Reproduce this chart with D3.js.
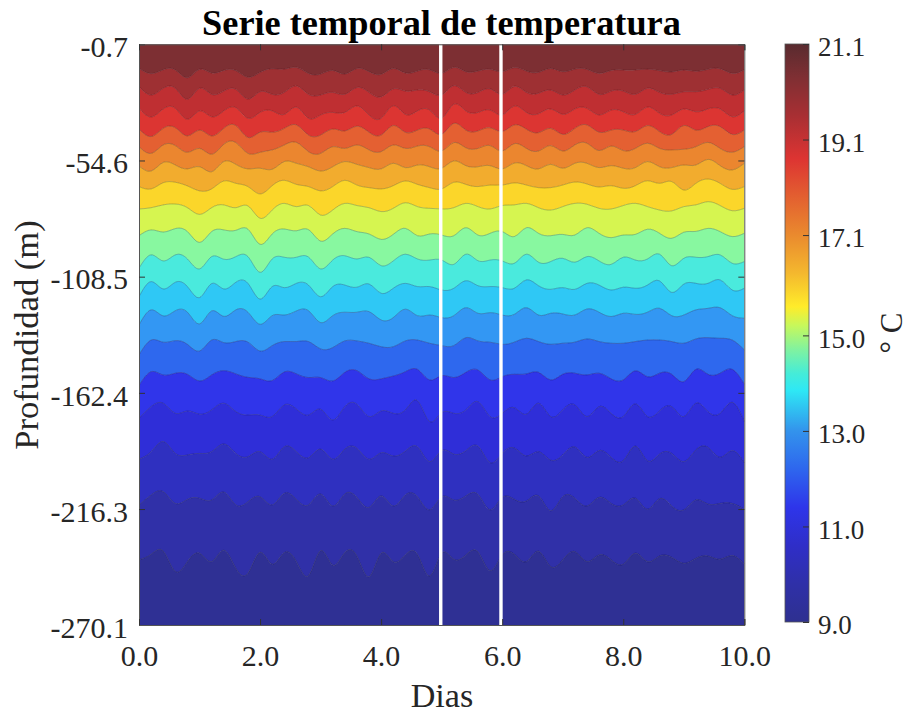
<!DOCTYPE html>
<html>
<head>
<meta charset="utf-8">
<script src="https://cdn.jsdelivr.net/npm/d3@7"></script>
<style>
html,body{margin:0;padding:0;background:#fff;}
svg{display:block;}
text{font-family:"Liberation Serif",serif;fill:#262626;}
</style>
</head>
<body>
<svg id="chart" width="908" height="714"></svg>
<script>
const chartTitle = "Serie temporal de temperatura";
const xLabel = "Dias";
const yLabel = "Profundidad (m)";
const cbLabel = "\u00B0 C";
const xTicks = [0,2,4,6,8,10];
const yTicks = [-0.7,-54.6,-108.5,-162.4,-216.3,-270.1];
const cbTicks = [21.1,19.1,17.1,15.0,13.0,11.0,9.0];
const gapDays = [4.985,5.98];
const days = d3.range(0,51).map(i=>i/5);

const iso1 = [-11.9,-14.3,-12.5,-12.6,-16.2,-12.3,-14.0,-12.8,-12.9,-16.0,-13.7,-12.0,-12.2,-11.4,-14.2,-14.5,-12.8,-14.5,-11.9,-13.4,-14.6,-11.9,-14.0,-13.1,-12.5,-14.2,-11.4,-13.4,-13.1,-12.3,-13.4,-11.5,-13.1,-13.7,-11.9,-13.4,-12.2,-12.3,-14.2,-12.8,-12.6,-12.6,-12.2,-12.9,-13.5,-12.6,-13.2,-12.3,-12.0,-14.2,-12.6];
const iso2 = [-20.4,-24.2,-21.1,-21.1,-26.2,-21.1,-23.9,-22.4,-21.6,-26.1,-22.7,-23.9,-23.0,-20.0,-23.9,-24.2,-23.0,-23.9,-20.7,-23.0,-25.1,-21.4,-22.4,-21.9,-22.7,-24.2,-19.9,-23.0,-23.0,-21.4,-23.9,-20.2,-23.0,-23.4,-21.9,-24.2,-21.9,-20.4,-23.9,-22.4,-22.4,-23.9,-21.1,-23.0,-23.9,-22.7,-22.7,-21.6,-21.1,-24.2,-21.9];
const iso3 = [-30.4,-34.4,-30.7,-30.4,-35.5,-31.6,-34.3,-31.6,-30.1,-35.0,-32.3,-31.6,-33.2,-29.9,-35.0,-33.5,-32.3,-32.3,-29.3,-33.5,-35.0,-29.2,-33.2,-31.6,-31.2,-35.0,-28.5,-31.6,-32.3,-31.2,-33.5,-29.3,-32.3,-32.9,-30.7,-33.2,-30.7,-30.4,-33.5,-31.2,-32.0,-33.2,-29.8,-32.7,-33.5,-30.7,-32.0,-30.7,-30.7,-34.3,-31.6];
const iso4 = [-40.0,-43.5,-39.7,-39.4,-43.2,-40.5,-43.2,-39.7,-38.4,-43.9,-41.5,-41.5,-39.7,-38.1,-42.8,-42.8,-40.0,-40.9,-38.7,-41.5,-42.8,-38.4,-41.5,-40.5,-40.0,-42.5,-37.4,-40.5,-40.9,-39.4,-41.2,-38.1,-40.1,-41.7,-39.7,-42.5,-39.7,-38.1,-41.5,-40.5,-40.5,-41.2,-38.4,-41.2,-42.5,-38.4,-40.5,-38.9,-38.9,-42.5,-40.5];
const iso5 = [-48.2,-51.3,-47.4,-47.7,-50.8,-49.0,-51.7,-47.1,-46.3,-51.3,-50.8,-49.7,-47.4,-46.2,-50.5,-51.3,-48.2,-49.0,-47.4,-49.7,-50.5,-47.4,-49.0,-47.9,-48.2,-50.2,-46.3,-48.7,-49.0,-47.7,-50.2,-46.8,-49.0,-50.2,-47.7,-50.2,-47.4,-46.6,-50.0,-47.9,-50.0,-49.0,-46.6,-49.0,-49.7,-49.4,-48.2,-46.2,-49.0,-50.8,-48.2];
const iso6 = [-57.1,-59.5,-55.5,-56.7,-58.5,-57.5,-59.8,-55.1,-56.4,-58.5,-58.2,-58.7,-55.1,-55.9,-57.5,-59.5,-57.5,-55.1,-56.4,-57.9,-58.5,-55.9,-57.9,-56.7,-57.5,-58.2,-54.8,-57.0,-57.5,-57.0,-58.5,-55.8,-57.0,-58.5,-56.4,-58.2,-55.9,-55.9,-57.9,-57.0,-58.2,-57.9,-55.1,-57.5,-57.9,-56.7,-56.7,-54.1,-57.0,-59.0,-55.9];
const iso7 = [-66.7,-67.8,-64.9,-64.7,-66.4,-68.7,-67.8,-64.1,-65.2,-66.7,-70.1,-66.3,-63.8,-65.7,-66.7,-68.7,-66.7,-63.8,-66.0,-67.2,-67.8,-66.3,-64.1,-65.7,-67.2,-67.8,-64.7,-65.7,-66.7,-66.0,-66.0,-65.0,-66.0,-67.2,-67.2,-66.0,-64.6,-65.5,-66.9,-66.3,-67.5,-66.3,-64.0,-65.2,-64.4,-68.3,-65.2,-63.2,-65.2,-68.0,-66.7];
const iso8 = [-77.1,-76.5,-75.2,-74.8,-76.5,-79.6,-76.5,-75.2,-76.5,-75.7,-81.4,-77.6,-74.5,-76.0,-75.5,-79.9,-77.6,-74.5,-75.5,-76.5,-78.3,-76.8,-74.2,-76.0,-76.8,-77.1,-76.5,-74.5,-76.0,-77.1,-75.5,-75.2,-74.5,-76.5,-77.6,-76.0,-74.5,-74.9,-76.8,-77.1,-75.5,-74.5,-76.0,-77.6,-78.0,-76.0,-75.2,-73.7,-75.5,-77.9,-76.8];
const iso9 = [-89.5,-86.8,-87.8,-86.2,-87.6,-92.6,-87.6,-86.8,-87.0,-86.5,-93.5,-88.7,-86.4,-87.2,-86.7,-92.0,-88.7,-86.1,-87.6,-88.7,-91.2,-88.9,-86.1,-89.5,-88.7,-89.2,-89.5,-85.8,-89.2,-88.4,-87.6,-89.9,-85.8,-88.4,-89.5,-88.9,-89.2,-85.8,-88.4,-90.4,-89.2,-88.9,-86.5,-88.4,-90.7,-87.9,-87.5,-86.1,-87.6,-89.9,-88.4];
const iso10 = [-104.6,-98.4,-101.2,-98.4,-100.3,-104.9,-99.2,-100.4,-99.2,-99.2,-106.5,-100.3,-99.5,-99.5,-99.4,-104.9,-100.8,-98.8,-100.3,-99.5,-103.4,-101.2,-98.1,-100.3,-100.8,-100.8,-102.8,-98.1,-101.1,-100.8,-101.2,-102.3,-98.1,-101.8,-101.5,-100.0,-101.8,-99.2,-101.2,-102.8,-99.5,-100.8,-100.3,-98.1,-103.4,-100.0,-99.5,-99.2,-98.4,-102.3,-101.5];
const iso11 = [-117.8,-110.8,-114.2,-111.1,-113.1,-118.2,-111.7,-114.2,-111.1,-111.6,-118.9,-113.1,-113.6,-111.6,-112.4,-117.8,-113.1,-112.4,-113.4,-111.9,-116.2,-113.9,-111.6,-113.1,-113.1,-114.7,-113.9,-110.4,-112.7,-113.1,-113.6,-113.9,-110.0,-112.7,-114.4,-113.6,-114.4,-111.6,-112.4,-114.7,-113.4,-113.9,-112.4,-110.5,-115.8,-112.0,-111.6,-111.6,-110.0,-114.7,-113.9];
const iso12 = [-130.9,-123.9,-126.7,-124.3,-125.0,-130.4,-124.4,-126.9,-123.9,-125.0,-130.6,-126.6,-126.3,-124.4,-124.3,-129.8,-126.6,-125.0,-125.0,-124.7,-128.6,-127.5,-123.6,-126.6,-126.3,-127.5,-126.6,-122.9,-125.5,-125.2,-126.3,-126.0,-122.9,-126.3,-125.5,-125.8,-126.3,-123.5,-125.0,-127.0,-125.5,-126.0,-125.0,-123.2,-126.6,-126.3,-123.9,-123.2,-122.9,-126.6,-127.8];
const iso13 = [-144.8,-137.9,-138.9,-138.2,-139.9,-143.0,-137.9,-139.1,-138.6,-138.9,-143.0,-140.5,-138.6,-138.6,-138.6,-142.0,-141.4,-138.3,-138.3,-139.4,-141.0,-141.0,-138.3,-137.9,-139.4,-140.5,-140.5,-136.8,-138.3,-138.9,-139.9,-138.9,-137.1,-138.6,-139.9,-139.4,-138.9,-137.4,-138.6,-139.4,-139.4,-138.6,-137.9,-137.9,-138.6,-139.4,-137.4,-136.8,-137.1,-137.9,-142.5];
const iso14 = [-159.0,-152.6,-154.1,-153.3,-153.8,-156.9,-154.1,-152.1,-153.6,-155.2,-155.9,-156.7,-152.7,-153.6,-155.3,-155.3,-156.9,-152.9,-152.1,-155.9,-155.9,-154.6,-152.6,-151.5,-156.4,-154.4,-155.3,-152.9,-151.8,-156.4,-154.9,-153.8,-153.6,-152.9,-156.4,-153.8,-153.3,-154.1,-153.3,-155.9,-156.4,-152.2,-154.9,-153.3,-153.8,-157.2,-151.5,-153.8,-153.3,-151.5,-158.4];
const iso15 = [-174.2,-168.8,-167.2,-171.9,-170.8,-172.3,-170.3,-167.2,-171.1,-172.7,-172.7,-173.4,-168.0,-169.9,-172.7,-170.0,-175.0,-168.8,-167.7,-173.4,-170.8,-171.9,-170.3,-166.0,-175.7,-171.6,-171.9,-170.3,-166.5,-173.4,-171.9,-169.3,-172.3,-167.2,-173.4,-170.3,-168.0,-173.4,-168.8,-171.9,-173.4,-167.5,-173.4,-170.8,-168.8,-173.4,-167.2,-171.1,-171.9,-166.8,-175.7];
const iso16 = [-193.2,-189.7,-185.0,-190.5,-191.2,-190.5,-189.7,-186.1,-190.5,-192.0,-189.7,-193.2,-187.4,-189.7,-192.5,-188.5,-193.2,-188.5,-188.1,-193.2,-190.2,-191.7,-189.4,-187.4,-194.3,-189.2,-190.8,-189.2,-187.1,-194.8,-190.5,-188.0,-191.7,-189.7,-193.6,-191.2,-187.5,-192.3,-189.2,-192.3,-193.9,-187.1,-193.9,-190.8,-190.5,-194.3,-188.9,-187.7,-192.3,-189.2,-194.8];
const iso17 = [-214.4,-209.8,-208.2,-213.7,-211.8,-211.3,-212.1,-208.4,-214.4,-212.9,-210.6,-214.4,-209.0,-211.8,-214.4,-209.3,-214.9,-209.3,-210.9,-215.5,-210.2,-214.9,-209.8,-210.6,-216.7,-210.6,-212.1,-210.2,-209.5,-216.7,-210.9,-211.8,-212.6,-210.2,-217.1,-210.6,-211.3,-214.9,-210.9,-213.7,-214.4,-211.3,-216.4,-211.5,-214.9,-216.7,-212.1,-214.0,-213.7,-213.7,-216.4];
const iso18 = [-239.9,-237.3,-235.8,-245.3,-240.7,-236.8,-240.7,-235.4,-243.8,-246.1,-236.4,-241.9,-236.5,-240.7,-247.2,-235.6,-242.3,-236.5,-238.1,-247.7,-236.8,-240.7,-237.6,-237.3,-247.4,-236.8,-239.6,-237.6,-236.2,-244.9,-237.6,-237.3,-240.7,-235.9,-243.0,-239.9,-236.1,-240.7,-237.6,-239.9,-241.9,-236.8,-240.7,-238.1,-238.7,-241.5,-239.2,-238.1,-239.6,-237.9,-241.8];
const isotherms = [iso1,iso2,iso3,iso4,iso5,iso6,iso7,iso8,iso9,iso10,iso11,iso12,iso13,iso14,iso15,iso16,iso17,iso18];

const bandColors = ["#7d2f33","#9e3033","#bf2f32","#dc3532","#e46032","#eb862f","#f2ac2e","#fbd62a","#d6f550","#88f8a0","#4aeadd","#2fc8f5","#3397f3","#2e68ee","#3035ea","#2f2ed8","#2f30c0","#3030a8","#2f3094"];
const cbStopValues = [21.1,20.4,19.6,18.7,18.0,17.1,16.3,15.6,15.2,14.7,14.2,13.85,13.0,12.2,11.4,10.6,9.8,9.0];
const cbStopColors = ["#592b2f","#7f2f33","#a82f33","#dd3432","#e25a30","#ea8a2e","#f4b82e","#ffec2a","#c6f85c","#80f2a0","#45ecd8","#2ee8f5","#3393ec","#2e66ee","#2e35ea","#2f2ec8","#2f30a8","#2e3090"];

const svg = d3.select("#chart");
const plot = {left:139,right:744.3,top:44.3,bottom:625};
const x = d3.scaleLinear().domain([0,10]).range([plot.left,plot.right]);
const y = d3.scaleLinear().domain([-0.7,-270.1]).range([plot.top,plot.bottom]);
const axisColor = "#555";

svg.append("defs").append("clipPath").attr("id","plotClip").append("rect")
  .attr("x",plot.left).attr("y",plot.top).attr("width",plot.right-plot.left).attr("height",plot.bottom-plot.top);
const g = svg.append("g").attr("clip-path","url(#plotClip)");

const top_ = days.map(()=>y.domain()[0]);
const bottom_ = days.map(()=>y.domain()[1]);
const bounds = [top_,...isotherms,bottom_];
const curve = d3.curveNatural;
const area = (a,b)=>d3.area().curve(curve)
  .x((d,i)=>x(days[i])).y0((d,i)=>y(a[i])).y1((d,i)=>y(b[i]))(days);
bandColors.forEach((c,k)=>{
  g.append("path").attr("d",area(bounds[k],bounds[k+1])).attr("fill",c).attr("stroke",c).attr("stroke-width",0.4);
});
const line = d3.line().curve(curve).x((d,i)=>x(days[i])).y(d=>y(d));
isotherms.forEach(v=>{
  g.append("path").attr("d",line(v)).attr("fill","none").attr("stroke","#1a1a2a").attr("stroke-opacity",0.32).attr("stroke-width",0.8);
});
gapDays.forEach(t=>{
  g.append("line").attr("x1",x(t)).attr("x2",x(t)).attr("y1",plot.top).attr("y2",plot.bottom)
    .attr("stroke","#fff").attr("stroke-width",3.4);
});

const yAxis = d3.axisLeft(y).tickValues(yTicks).tickSize(-6).tickPadding(11).tickFormat(d3.format(".1f"));
const yAxisR = d3.axisRight(y).tickValues(yTicks).tickSize(-6).tickFormat("");
const xAxis = d3.axisBottom(x).tickValues(xTicks).tickSize(-6).tickPadding(19.7).tickFormat(d3.format(".1f"));
const xAxisT = d3.axisTop(x).tickValues(xTicks).tickSize(-6).tickFormat("");
const styleAxis = (s,size)=>{
  s.selectAll(".domain").attr("stroke",axisColor).attr("stroke-width",1);
  s.selectAll(".tick line").attr("stroke","#333").attr("stroke-width",1);
  s.selectAll("text").style("font-family",'"Liberation Serif",serif').style("font-size",size+"px").attr("fill","#262626")
    .text(function(){return this.textContent.replace("\u2212","-");});
};
svg.append("g").attr("transform",`translate(${plot.left},0)`).call(yAxis).call(styleAxis,30).selectAll("text").attr("dy","0.41em");
svg.append("g").attr("transform",`translate(${plot.right},0)`).call(yAxisR).call(styleAxis,30);
svg.append("g").attr("transform",`translate(0,${plot.bottom})`).call(xAxis).call(styleAxis,30);
svg.append("g").attr("transform",`translate(0,${plot.top})`).call(xAxisT).call(styleAxis,30);

svg.append("text").attr("x",441.5).attr("y",34.5).attr("text-anchor","middle")
  .style("font-size","36.3px").style("font-weight","bold").style("fill","#000").text(chartTitle);
svg.append("text").attr("x",442).attr("y",707).attr("text-anchor","middle").style("font-size","34.2px").text(xLabel);
svg.append("text").attr("transform","translate(37.5,335) rotate(-90)").attr("text-anchor","middle").style("font-size","34.6px").text(yLabel);

const cb = {left:785,right:809,top:44,bottom:622};
const cbY = d3.scaleLinear().domain([21.1,9]).range([cb.top,cb.bottom]);
const grad = svg.select("defs").append("linearGradient").attr("id","cbGrad")
  .attr("gradientUnits","userSpaceOnUse").attr("x1",0).attr("x2",0).attr("y1",cb.top).attr("y2",cb.bottom);
cbStopValues.forEach((v,i)=>{
  grad.append("stop").attr("offset",(cbY(v)-cb.top)/(cb.bottom-cb.top)).attr("stop-color",cbStopColors[i]);
});
svg.append("rect").attr("x",cb.left).attr("y",cb.top).attr("width",cb.right-cb.left).attr("height",cb.bottom-cb.top)
  .attr("fill","url(#cbGrad)").attr("stroke",axisColor).attr("stroke-width",0.8);
const cbAxis = d3.axisRight(cbY).tickValues(cbTicks).tickSize(-6).tickPadding(9).tickFormat(d3.format(".1f"));
svg.append("g").attr("transform",`translate(${cb.right},0)`).call(cbAxis).call(styleAxis,27)
  .call(s=>s.select(".domain").remove()).selectAll("text").attr("dy","0.44em");
svg.append("text").attr("transform","translate(901.5,333) rotate(-90)").attr("text-anchor","middle")
  .style("font-size","31px").text(cbLabel);
</script>
</body>
</html>
